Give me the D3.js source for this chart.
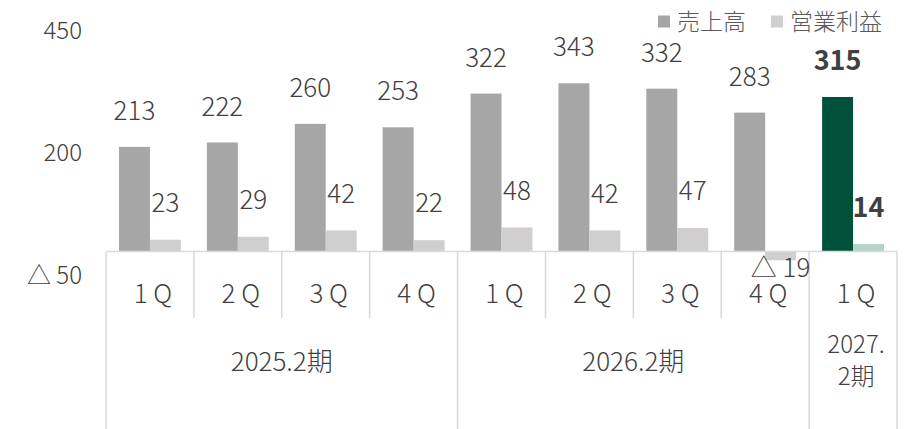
<!DOCTYPE html>
<html>
<head>
<meta charset="utf-8">
<script src="https://cdn.jsdelivr.net/npm/d3@7/dist/d3.min.js"></script>
<style>
  html, body { margin: 0; padding: 0; background: #fff; }
  svg { display: block; font-family: "Noto Sans CJK JP", "Noto Sans", sans-serif; font-weight: 300; }
</style>
</head>
<body>
<svg id="chart" width="905" height="429"></svg>
<script>
// Quarterly sales and operating profit
const quarters = ["1 Q", "2 Q", "3 Q", "4 Q", "1 Q", "2 Q", "3 Q", "4 Q", "1 Q"];
const sales = [213, 222, 260, 253, 322, 343, 332, 283, 315];
const profit = [23, 29, 42, 22, 48, 42, 47, -19, 14];
const fiscalYears = ["2025.2期", "2026.2期", "2027.\n2期"];
const yearSpans = [4, 4, 1];
const seriesNames = ["売上高", "営業利益"];
const yTicks = [-50, 200, 450];
const highlightIndex = 8;

const colors = {
  sales: "#a6a6a6",
  profit: "#d0cece",
  salesHi: "#00513a",
  profitHi: "#b5d3c9",
  text: "#404040",
  legendText: "#595959",
  rule: "#d9d9d9"
};

const svg = d3.select("#chart");
const plotLeft = 106, plotRight = 897, plotTop = 31, plotFloor = 275.4;

const y = d3.scaleLinear().domain([-50, 450]).range([plotFloor, plotTop]);
const x = d3.scaleBand().domain(d3.range(quarters.length)).range([plotLeft, plotRight]).paddingInner(0).paddingOuter(0);
const sub = d3.scaleBand().domain(["sales", "profit"]).range([0, x.bandwidth()]).paddingInner(0).paddingOuter(0.42);

const fmt = v => v < 0 ? "△ " + Math.abs(v) : String(v);

// y axis: labels only
const yAxis = d3.axisLeft(y).tickValues(yTicks).tickSize(0).tickPadding(0).tickFormat(fmt);
const yg = svg.append("g").attr("transform", "translate(82,0)").call(yAxis);
yg.select(".domain").remove();
yg.selectAll("text")
  .attr("fill", colors.text)
  .style("font-size", "24px")
  .style("font-family", "'Noto Sans CJK JP', sans-serif")
  .style("font-weight", 300);

// bars
const g = svg.append("g");
const zeroY = y(0);
quarters.forEach((q, i) => {
  const hi = i === highlightIndex;
  const sx = x(i) + sub("sales");
  const px = x(i) + sub("profit");
  g.append("rect")
    .attr("x", sx).attr("width", sub.bandwidth())
    .attr("y", y(sales[i])).attr("height", zeroY - y(sales[i]))
    .attr("fill", hi ? colors.salesHi : colors.sales);
  g.append("rect")
    .attr("x", px).attr("width", sub.bandwidth())
    .attr("y", y(Math.max(0, profit[i]))).attr("height", Math.abs(y(profit[i]) - zeroY))
    .attr("fill", hi ? colors.profitHi : colors.profit);
});

// category table rules
const rules = svg.append("g").attr("stroke", colors.rule).attr("stroke-width", 1.5).attr("fill", "none");
rules.append("line").attr("x1", plotLeft).attr("x2", plotRight).attr("y1", zeroY + 0.5).attr("y2", zeroY + 0.5);
let acc = 0;
const groupEdges = [0];
yearSpans.forEach(s => { acc += s; groupEdges.push(acc); });
d3.range(quarters.length + 1).forEach(k => {
  const xx = k < quarters.length ? x(k) : plotRight;
  const full = groupEdges.includes(k);
  rules.append("line")
    .attr("x1", xx).attr("x2", xx)
    .attr("y1", zeroY + 1).attr("y2", full ? 429 : 318);
});

// quarter labels
svg.append("g").selectAll("text").data(quarters).join("text")
  .attr("x", (d, i) => x(i) + x.bandwidth() / 2 + 3)
  .attr("y", 294).attr("dy", "0.35em")
  .attr("text-anchor", "middle")
  .attr("fill", colors.text)
  .style("font-size", "26px")
  .text(d => d);

// fiscal year labels
fiscalYears.forEach((label, k) => {
  const x0 = k === 0 ? plotLeft : x(groupEdges[k]);
  const x1 = groupEdges[k + 1] < quarters.length ? x(groupEdges[k + 1]) : plotRight;
  const lines = label.split("\n");
  const cy = lines.length === 1 ? 362 : 345;
  const t = svg.append("text")
    .attr("text-anchor", "middle")
    .attr("fill", colors.text)
    .style("font-size", lines.length === 1 ? "26px" : "24px");
  lines.forEach((ln, j) => {
    t.append("tspan").attr("x", (x0 + x1) / 2 + (lines.length > 1 ? 3 : 0)).attr("y", cy + j * 32).attr("dy", "0.35em").text(ln);
  });
});

// value labels
const labels = svg.append("g").attr("fill", colors.text).attr("text-anchor", "middle");
quarters.forEach((q, i) => {
  const hi = i === highlightIndex;
  labels.append("text")
    .attr("x", x(i) + sub("sales") + sub.bandwidth() / 2)
    .attr("y", y(sales[i]) - 36).attr("dy", "0.35em")
    .style("font-size", hi ? "27px" : "26px").style("font-weight", hi ? "bold" : 300)
    .text(fmt(sales[i]));
  const pv = profit[i];
  labels.append("text")
    .attr("x", x(i) + sub("profit") + sub.bandwidth() / 2)
    .attr("y", pv >= 0 ? y(pv) - 37 : y(pv) + 8).attr("dy", "0.35em")
    .style("font-size", hi ? "27px" : "26px").style("font-weight", hi ? "bold" : 300)
    .text(fmt(pv));
});

// legend
const legend = svg.append("g");
const legendX = [658, 771];
seriesNames.forEach((name, k) => {
  legend.append("rect").attr("x", legendX[k]).attr("y", 15.5).attr("width", 12).attr("height", 12)
    .attr("fill", k === 0 ? colors.sales : colors.profit);
  legend.append("text").attr("x", legendX[k] + 19).attr("y", 21.5).attr("dy", "0.35em")
    .attr("fill", colors.legendText).style("font-size", "23px").text(name);
});
</script>
</body>
</html>
